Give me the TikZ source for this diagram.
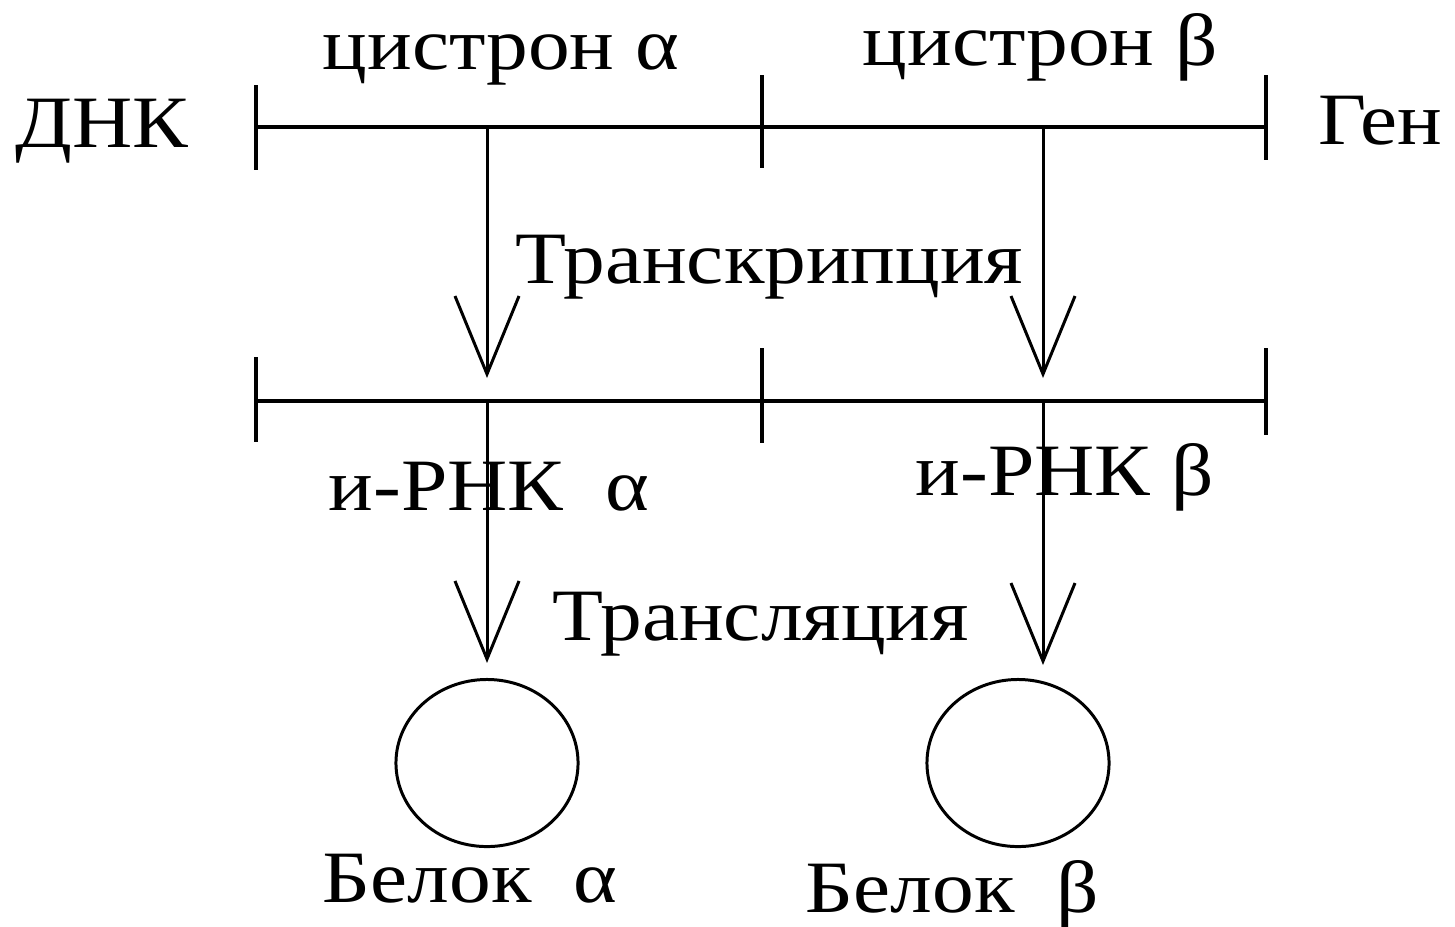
\documentclass[tikz,border=0pt]{standalone}
\usepackage{fontspec}
\newfontfamily\txtf[FakeStretch=1.13]{Liberation Serif}
\usetikzlibrary{arrows.meta,shapes.geometric}
\begin{document}
\begin{tikzpicture}[x=0.01cm,y=-0.01cm,
  lbl/.style={anchor=base west,inner sep=0pt,font=\txtf\fontsize{21}{24}\selectfont},
  ln/.style={line width=1pt},
  arr/.style={line width=0.85pt,-{Straight Barb[length=0.78cm,width=0.64cm,line width=0.85pt]}},
  prot/.style={ellipse,draw,line width=0.85pt,minimum width=1.82cm,minimum height=1.67cm,inner sep=0pt}]
\useasboundingbox (0,0) rectangle (1455,926);
% DNA line
\coordinate (d0) at (256,127);
\coordinate (d1) at (762,127);
\coordinate (d2) at (1266,127);
\coordinate (dA) at (487,127);
\coordinate (dB) at (1043,127);
\draw[ln] (d0) -- (d2);
\draw[ln] (256,85) -- (256,170);
\draw[ln] (762,75) -- (762,168);
\draw[ln] (1266,75) -- (1266,160);
% mRNA line
\coordinate (r0) at (256,401);
\coordinate (r2) at (1266,401);
\coordinate (rA) at (487,401);
\coordinate (rB) at (1043,401);
\draw[ln] (r0) -- (r2);
\draw[ln] (256,357) -- (256,442);
\draw[ln] (762,348) -- (762,443);
\draw[ln] (1266,348) -- (1266,435);
% proteins
\node[prot] (pA) at (487,763) {};
\node[prot] (pB) at (1018,763) {};
\coordinate (tB) at (1043,680);
% arrows
\draw[arr,shorten >=0.23cm] (dA) -- (rA);
\draw[arr,shorten >=0.23cm] (dB) -- (rB);
\draw[arr,shorten >=0.15cm] (rA) -- (pA.north);
\draw[arr,shorten >=0.15cm] (rB) -- (tB);
% labels
\node[lbl] (dnk) at (15,147) {ДНК};
\node[lbl] (ca) at (322,69) {цистрон α};
\node[lbl] (cb) at (862,65) {цистрон β};
\node[lbl] (gen) at (1318,144) {Ген};
\node[lbl] (tr) at (515,283) {Транскрипция};
\node[lbl] (ra) at (328,510) {и-РНК\ \ α};
\node[lbl] (rb) at (915,495) {и-РНК β};
\node[lbl] (tl) at (552,640) {Трансляция};
\node[lbl] (ba) at (322,902) {Белок\ \ α};
\node[lbl] (bb) at (805,912) {Белок\ \ β};
\end{tikzpicture}
\end{document}
